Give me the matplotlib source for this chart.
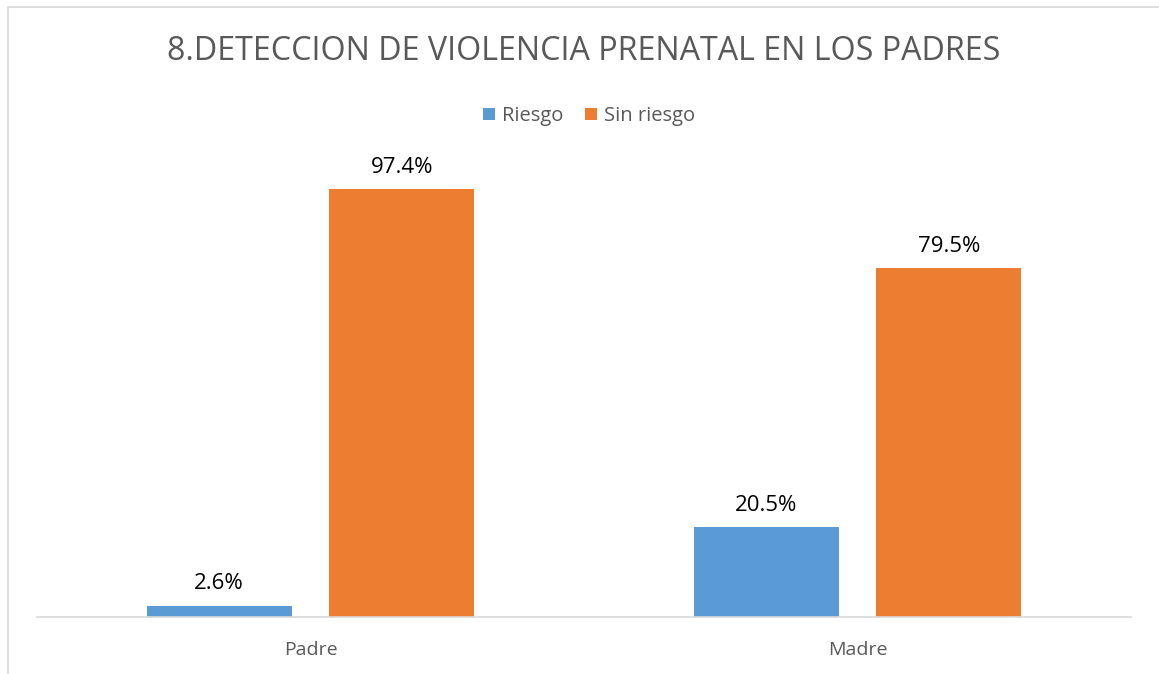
import numpy as np
import matplotlib.pyplot as plt
from matplotlib.patches import Rectangle

# data
categories = ["Padre", "Madre"]
riesgo = [2.6, 20.5]
sin_riesgo = [97.4, 79.5]
series_names = ["Riesgo", "Sin riesgo"]
title = "8.DETECCION DE VIOLENCIA PRENATAL EN LOS PADRES"

plt.rcParams['font.family'] = ['Open Sans', 'DejaVu Sans']

W, H = 1159, 674
fig = plt.figure(figsize=(W / 100, H / 100), dpi=100)

# light outer frame of the chart area
fig.patches.append(Rectangle((8 / W, -0.02), 1.1, 1 - 7 / H + 0.02, transform=fig.transFigure,
                             fill=False, edgecolor="#d9d9d9", linewidth=1.2))

ax = fig.add_axes([37 / W, (H - 617) / H, 1094 / W, 483 / H])

x = np.arange(len(categories))
width = 0.265
offset = 0.167
b1 = ax.bar(x - offset, riesgo, width, color="#5b9bd5", label=series_names[0])
b2 = ax.bar(x + offset, sin_riesgo, width, color="#ed7d31", label=series_names[1])

for bars, vals in ((b1, riesgo), (b2, sin_riesgo)):
    for b, v in zip(bars, vals):
        ax.annotate(f"{v:.1f}%", (b.get_x() + b.get_width() / 2, v),
                    xytext=(0, 8), textcoords="offset points",
                    ha="center", va="bottom", fontsize=16, color="#000000")

ax.set_xlim(-0.5, 1.5)
ax.set_ylim(0, 110)
ax.set_xticks(x)
ax.set_xticklabels(categories, fontsize=14, color="#595959")
ax.tick_params(axis="x", length=0, pad=17)
ax.set_yticks([])
for s in ("top", "right", "left"):
    ax.spines[s].set_visible(False)
ax.spines["bottom"].set_color("#d9d9d9")
ax.spines["bottom"].set_linewidth(1.2)

fig.text(584 / W, 1 - 52 / H, title, ha="center", va="center",
         fontsize=23.2, color="#595959")

fig.legend(handles=[b1, b2], loc="center", bbox_to_anchor=(589 / W, 1 - 116 / H),
           ncol=2, frameon=False, fontsize=14.5, handlelength=0.6, handleheight=0.6,
           handletextpad=0.35, columnspacing=1.1, labelcolor="#595959")

fig.savefig("out.png", dpi=100)
